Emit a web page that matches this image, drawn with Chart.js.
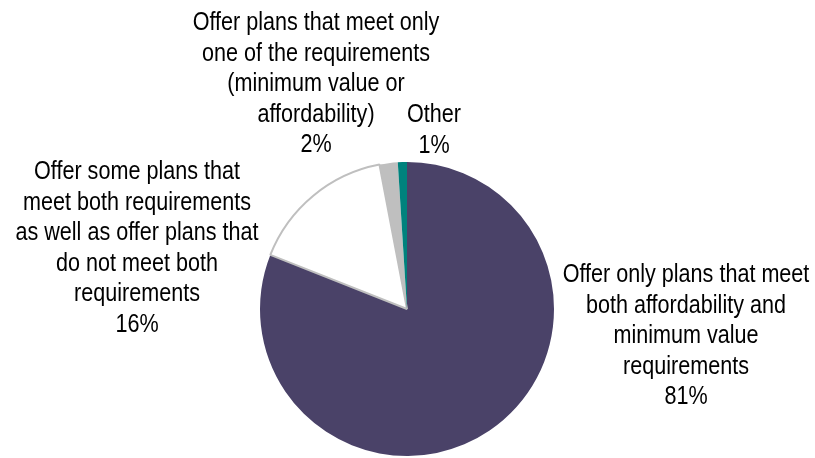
<!DOCTYPE html>
<html>
<head>
<meta charset="utf-8">
<script src="https://cdn.jsdelivr.net/npm/chart.js@4/dist/chart.umd.min.js"></script>
<style>
html,body{margin:0;padding:0;background:#fff;overflow:hidden;width:815px;height:458px;}
canvas{display:block;}
</style>
</head>
<body>
<canvas id="c" width="815" height="470"></canvas>
<script>
// ---- data ----
const categories = [
  ["Offer only plans that meet", "both affordability and", "minimum value", "requirements"],
  ["Offer some plans that", "meet both requirements", "as well as offer plans that", "do not meet both", "requirements"],
  ["Offer plans that meet only", "one of the requirements", "(minimum value or", "affordability)"],
  ["Other"]
];
const values = [81, 16, 2, 1];

// ---- styling / layout (not data) ----
const sliceColors = ["#4a4268", "#ffffff", "#bfbfbf", "#00827d"];
const sliceBorders = ["#4a4268", "#bfbfbf", "#bfbfbf", "#00827d"];
const sliceBorderWidths = [0, 2, 0, 0];
const labelAnchors = [
  {x: 686, y: 275},
  {x: 137, y: 172},
  {x: 316, y: 23},
  {x: 434, y: 115}
];
const LINE_H = 30.5;
const FONT = '26px "Liberation Sans", Arial, sans-serif';
const NARROW = 0.83;

const labelPlugin = {
  id: 'sliceLabels',
  afterDraw(chart) {
    const ctx = chart.ctx;
    categories.forEach((lines, i) => {
      const all = lines.concat([values[i] + '%']);
      const a = labelAnchors[i];
      all.forEach((t, j) => {
        ctx.save();
        ctx.translate(a.x, a.y + j * LINE_H);
        ctx.scale(NARROW, 1);
        ctx.font = FONT;
        ctx.fillStyle = '#000';
        ctx.textAlign = 'center';
        ctx.textBaseline = 'middle';
        ctx.fillText(t, 0, 0);
        ctx.restore();
      });
    });
  }
};

new Chart(document.getElementById('c'), {
  type: 'pie',
  data: {
    labels: categories.map(c => c.join(' ')),
    datasets: [{
      data: values,
      backgroundColor: sliceColors,
      borderColor: sliceBorders,
      borderWidth: sliceBorderWidths
    }]
  },
  options: {
    responsive: false,
    animation: false,
    devicePixelRatio: 1,
    layout: {padding: {left: 259, right: 260, top: 161, bottom: 13}},
    plugins: {legend: {display: false}, tooltip: {enabled: false}}
  },
  plugins: [labelPlugin]
});
</script>
</body>
</html>
